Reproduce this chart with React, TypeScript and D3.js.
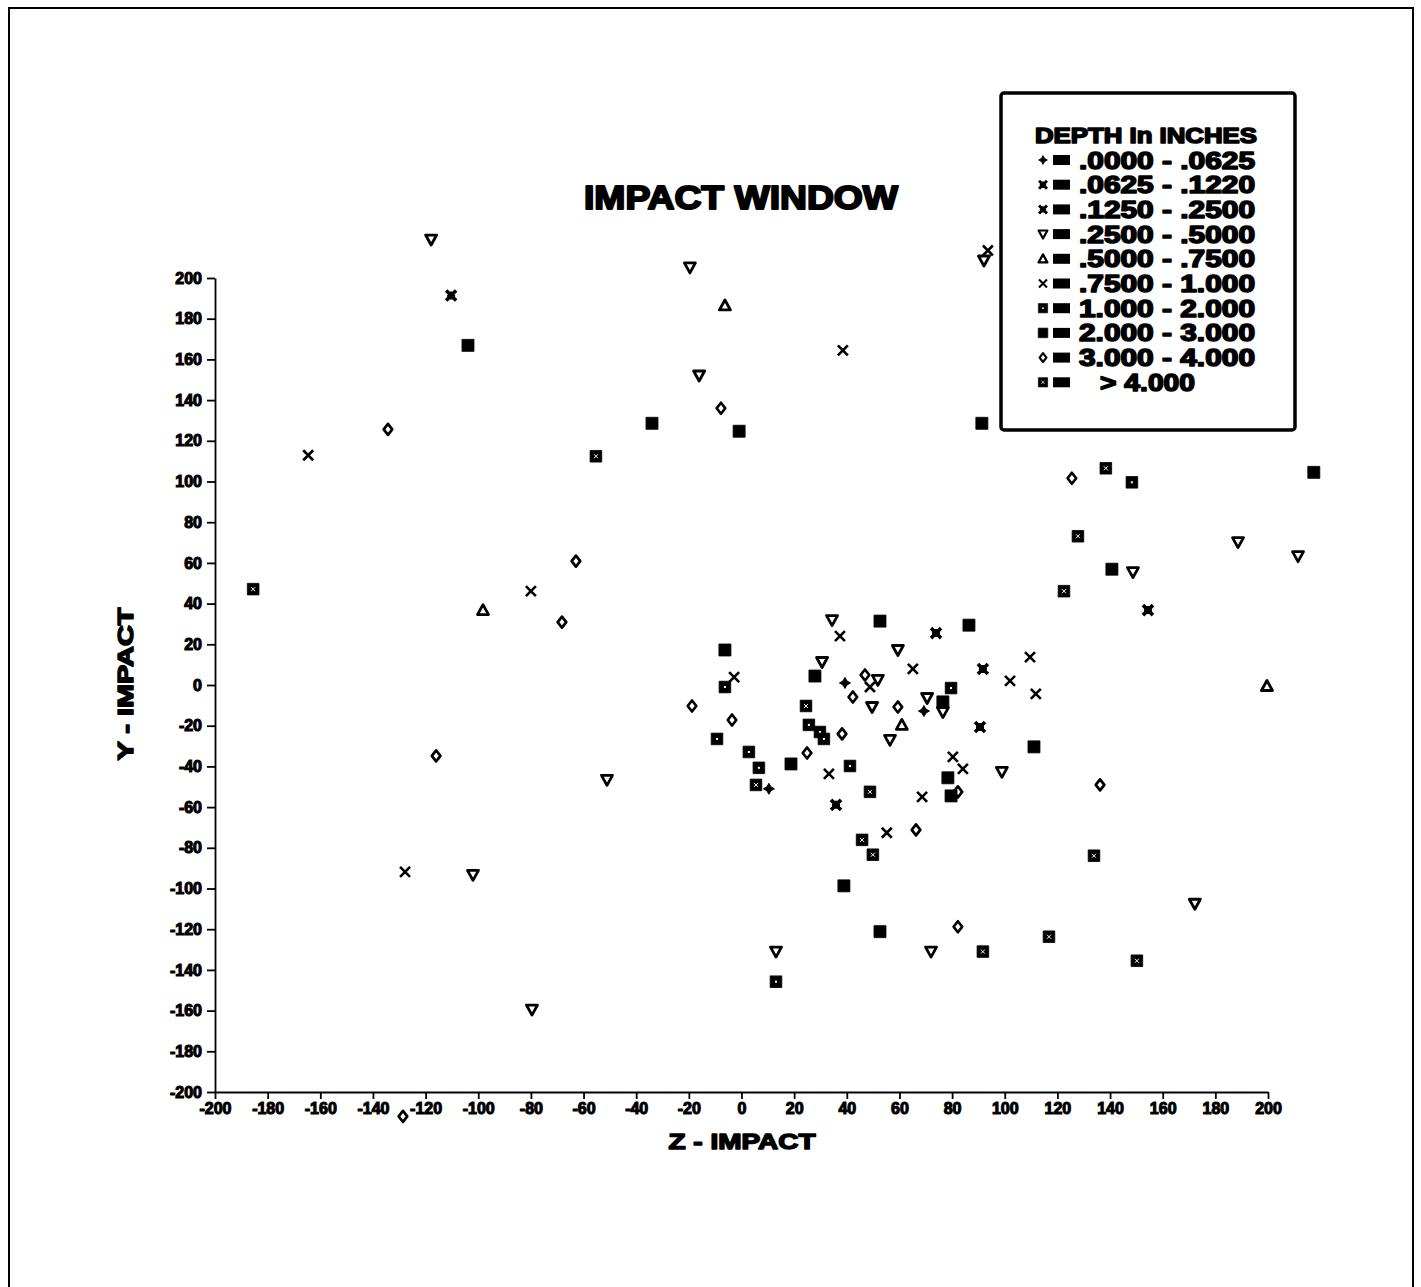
import React, { useEffect, useRef } from "react";
import * as d3 from "d3";

// [z, y] pairs, one list per depth class
const depth1 = [[39.3, 1.0], [10.4, -51.0], [69.3, -12.8]];
const depth2 = [[-110.3, 191.4], [154.4, 36.8], [90.6, -20.6]];
const depth3 = [[35.9, -58.9], [73.9, 25.5], [91.7, 7.9]];
const depth4 = [
  [-117.9, 218.9], [-19.6, 205.2], [-16.1, 152.1], [92.1, 208.6], [34.4, 31.9], [59.4, 17.2],
  [188.6, 70.2], [148.7, 55.5], [211.4, 63.3], [-51.1, -46.6], [-102.0, -93.3], [-79.6, -159.5],
  [13.1, -131.0], [72.0, -131.0], [98.9, -42.7], [49.6, -10.8], [56.4, -27.0], [76.5, -13.3],
  [70.5, -6.4], [30.6, 11.3], [51.8, 2.5], [172.2, -107.5],
];
const depth5 = [[-6.3, 186.5], [-98.2, 36.8], [199.6, -0.5], [60.9, -19.6]];
const depth6 = [
  [-164.6, 112.9], [-80.0, 46.1], [38.5, 164.4], [93.6, 213.5], [-2.8, 3.9], [37.4, 24.0],
  [33.2, -43.7], [48.8, -1.0], [55.2, -72.6], [65.1, 7.9], [68.6, -55.0], [80.3, -35.3],
  [84.1, -41.2], [109.6, 13.7], [102.0, 2.0], [111.8, -4.4], [-127.8, -91.8],
];
const depth7 = [
  [13.1, -145.8], [148.3, 99.6], [-6.3, -1.0], [2.8, -32.9], [6.6, -40.7], [-9.3, -26.5],
  [25.6, -19.6], [29.8, -23.1], [31.3, -26.5], [41.2, -39.8], [79.6, -1.5],
];
const depth8 = [
  [-34.0, 128.6], [-0.9, 124.7], [91.3, 128.6], [217.4, 104.5], [52.6, 31.4], [86.4, 29.4],
  [-6.3, 17.2], [38.9, -98.7], [52.6, -121.2], [140.7, 56.9], [111.1, -30.4], [78.4, -45.6],
  [79.6, -54.5], [76.5, -8.3], [18.8, -38.8], [27.9, 4.4], [-103.9, 166.9],
];
const depth9 = [
  [-134.3, 125.6], [-7.8, 136.0], [-62.9, 60.9], [-68.2, 30.9], [-116.0, -34.8], [-18.8, -10.3],
  [-3.6, -17.2], [125.5, 101.6], [42.3, -5.9], [46.9, 4.9], [38.2, -24.0], [59.4, -10.8],
  [24.9, -33.4], [66.3, -71.2], [82.2, -52.5], [82.2, -118.8], [136.2, -49.1], [-128.6, -212.0],
];
const depth10 = [
  [45.8, -76.1], [49.9, -83.4], [133.9, -83.9], [116.8, -123.7], [150.2, -135.5], [91.7, -131.0],
  [138.4, 106.5], [-185.5, 47.1], [-55.3, 112.4], [127.8, 73.1], [122.5, 46.1], [24.5, -10.3],
  [48.8, -52.5], [5.5, -49.1],
];

const legendLabels = [
  ".0000 - .0625", ".0625 - .1220", ".1250 - .2500", ".2500 - .5000", ".5000 - .7500",
  ".7500 - 1.000", "1.000 - 2.000", "2.000 - 3.000", "3.000 - 4.000", "> 4.000",
];
const ticks = d3.range(-200, 201, 20);

const FONT = "'Liberation Sans', Arial, sans-serif";

// marker drawing for each depth class
const markers = [
  { d: "M0,-5.5L2,-2L5.5,0L2,2L0,5.5L-2,2L-5.5,0L-2,-2Z", fill: "#000", sw: 1 },
  { d: "M-5,-5L5,5M5,-5L-5,5M-2.2,-2.2h4.4v4.4h-4.4Z", fill: "#000", sw: 3.6 },
  { d: "M-5,-5L5,5M5,-5L-5,5M-2.2,-2.2h4.4v4.4h-4.4Z", fill: "#000", sw: 3.6 },
  { d: "M-5.5,-4.5L5.5,-4.5L0,5.5Z", fill: "none", sw: 2.8 },
  { d: "M-5.5,4.5L5.5,4.5L0,-5.5Z", fill: "none", sw: 2.8 },
  { d: "M-5,-5L5,5M5,-5L-5,5", fill: "none", sw: 2.6 },
  { d: "M-5.8,-5.8h11.6v11.6h-11.6Z", fill: "#000", sw: 0.8, dot: true },
  { d: "M-6,-6h12v12h-12Z", fill: "#000", sw: 0.8 },
  { d: "M0,-5.5L4.3,0L0,5.5L-4.3,0Z", fill: "none", sw: 2.7 },
  { d: "M-5.8,-5.8h11.6v11.6h-11.6Z", fill: "#000", sw: 0.8, cross: true },
];

const series = [depth1, depth2, depth3, depth4, depth5, depth6, depth7, depth8, depth9, depth10];

function drawMarker(g: any, k: number) {
  const m = markers[k];
  g.append("path")
    .attr("d", m.d)
    .attr("fill", m.fill)
    .attr("stroke", "#000")
    .attr("stroke-width", m.sw)
    .attr("stroke-linejoin", "round");
  if (m.dot) g.append("rect").attr("x", -1).attr("y", -1).attr("width", 2).attr("height", 2).attr("fill", "#fff");
  if (m.cross)
    g.append("path").attr("d", "M-2,-2L2,2M2,-2L-2,2").attr("stroke", "#fff").attr("stroke-width", 1);
}

export default function App() {
  const ref = useRef<SVGSVGElement>(null);

  useEffect(() => {
    if (!ref.current) return;
    const svg = d3.select(ref.current);
    svg.selectAll("*").remove();

    const x = d3.scaleLinear().domain([-200, 200]).range([215, 1268]);
    const y = d3.scaleLinear().domain([-200, 200]).range([1092, 278]);

    svg.append("rect").attr("width", 1421).attr("height", 1287).attr("fill", "#fff");
    // page frame
    svg.append("rect").attr("x", 9).attr("y", 8).attr("width", 1404).attr("height", 1300)
      .attr("fill", "none").attr("stroke", "#000").attr("stroke-width", 2);

    const styleAxis = (g: any) => {
      g.selectAll("path,line").attr("stroke", "#000").attr("stroke-width", 1.8);
      g.selectAll("text")
        .attr("font-family", FONT).attr("font-size", 16).attr("font-weight", 900)
        .attr("fill", "#000").attr("stroke", "#000").attr("stroke-width", 1.1);
    };
    const fmt = (d: any) => String(d);

    svg.append("g").attr("transform", "translate(215,0)")
      .call(d3.axisLeft(y).tickValues(ticks).tickSize(8).tickSizeOuter(0).tickPadding(5).tickFormat(fmt))
      .call(styleAxis);
    svg.append("g").attr("transform", "translate(0,1092)")
      .call(d3.axisBottom(x).tickValues(ticks).tickSize(7).tickSizeOuter(0).tickPadding(4).tickFormat(fmt))
      .call(styleAxis);

    const bold = (t: any) =>
      t.attr("font-family", FONT).attr("font-weight", 900).attr("fill", "#000")
        .attr("stroke", "#000").attr("stroke-linejoin", "round");

    svg.append("text").attr("x", 741).attr("y", 209).attr("text-anchor", "middle")
      .attr("font-size", 33).attr("stroke-width", 2).attr("textLength", 314).attr("lengthAdjust", "spacingAndGlyphs")
      .call(bold).text("IMPACT WINDOW");
    svg.append("text").attr("x", 742).attr("y", 1149).attr("text-anchor", "middle")
      .attr("font-size", 22).attr("stroke-width", 1.5).attr("textLength", 147).attr("lengthAdjust", "spacingAndGlyphs")
      .call(bold).text("Z - IMPACT");
    svg.append("text").attr("transform", "translate(133,684) rotate(-90)").attr("text-anchor", "middle")
      .attr("font-size", 22).attr("stroke-width", 1.5).attr("textLength", 153).attr("lengthAdjust", "spacingAndGlyphs")
      .call(bold).text("Y - IMPACT");

    // points
    series.forEach((pts, k) => {
      pts.forEach(([z, v]) => {
        const g = svg.append("g").attr("transform", `translate(${x(z)},${y(v)})`);
        drawMarker(g, k);
      });
    });

    // legend
    const lg = svg.append("g");
    lg.append("rect").attr("x", 1001).attr("y", 93).attr("width", 294).attr("height", 337).attr("rx", 3)
      .attr("fill", "#fff").attr("stroke", "#000").attr("stroke-width", 3.5);
    lg.append("text").attr("x", 1146).attr("y", 143).attr("text-anchor", "middle")
      .attr("font-size", 22).attr("stroke-width", 1.6).attr("textLength", 222).attr("lengthAdjust", "spacingAndGlyphs")
      .call(bold).text("DEPTH In INCHES");
    legendLabels.forEach((lab, i) => {
      const cy = 160 + i * 24.7;
      const g = lg.append("g").attr("transform", `translate(1043,${cy}) scale(0.8)`);
      drawMarker(g, i);
      lg.append("rect").attr("x", 1053).attr("y", cy - 5).attr("width", 17).attr("height", 10).attr("fill", "#000");
      const last = i === legendLabels.length - 1;
      lg.append("text").attr("x", last ? 1100 : 1079).attr("y", cy + 8.5)
        .attr("font-size", 23).attr("stroke-width", 1.5)
        .attr("textLength", last ? 95 : 176).attr("lengthAdjust", "spacingAndGlyphs")
        .call(bold).text(lab);
    });
  }, []);

  return (
    <svg ref={ref} width={1421} height={1287} style={{ position: "absolute", left: 0, top: 0 }} />
  );
}
